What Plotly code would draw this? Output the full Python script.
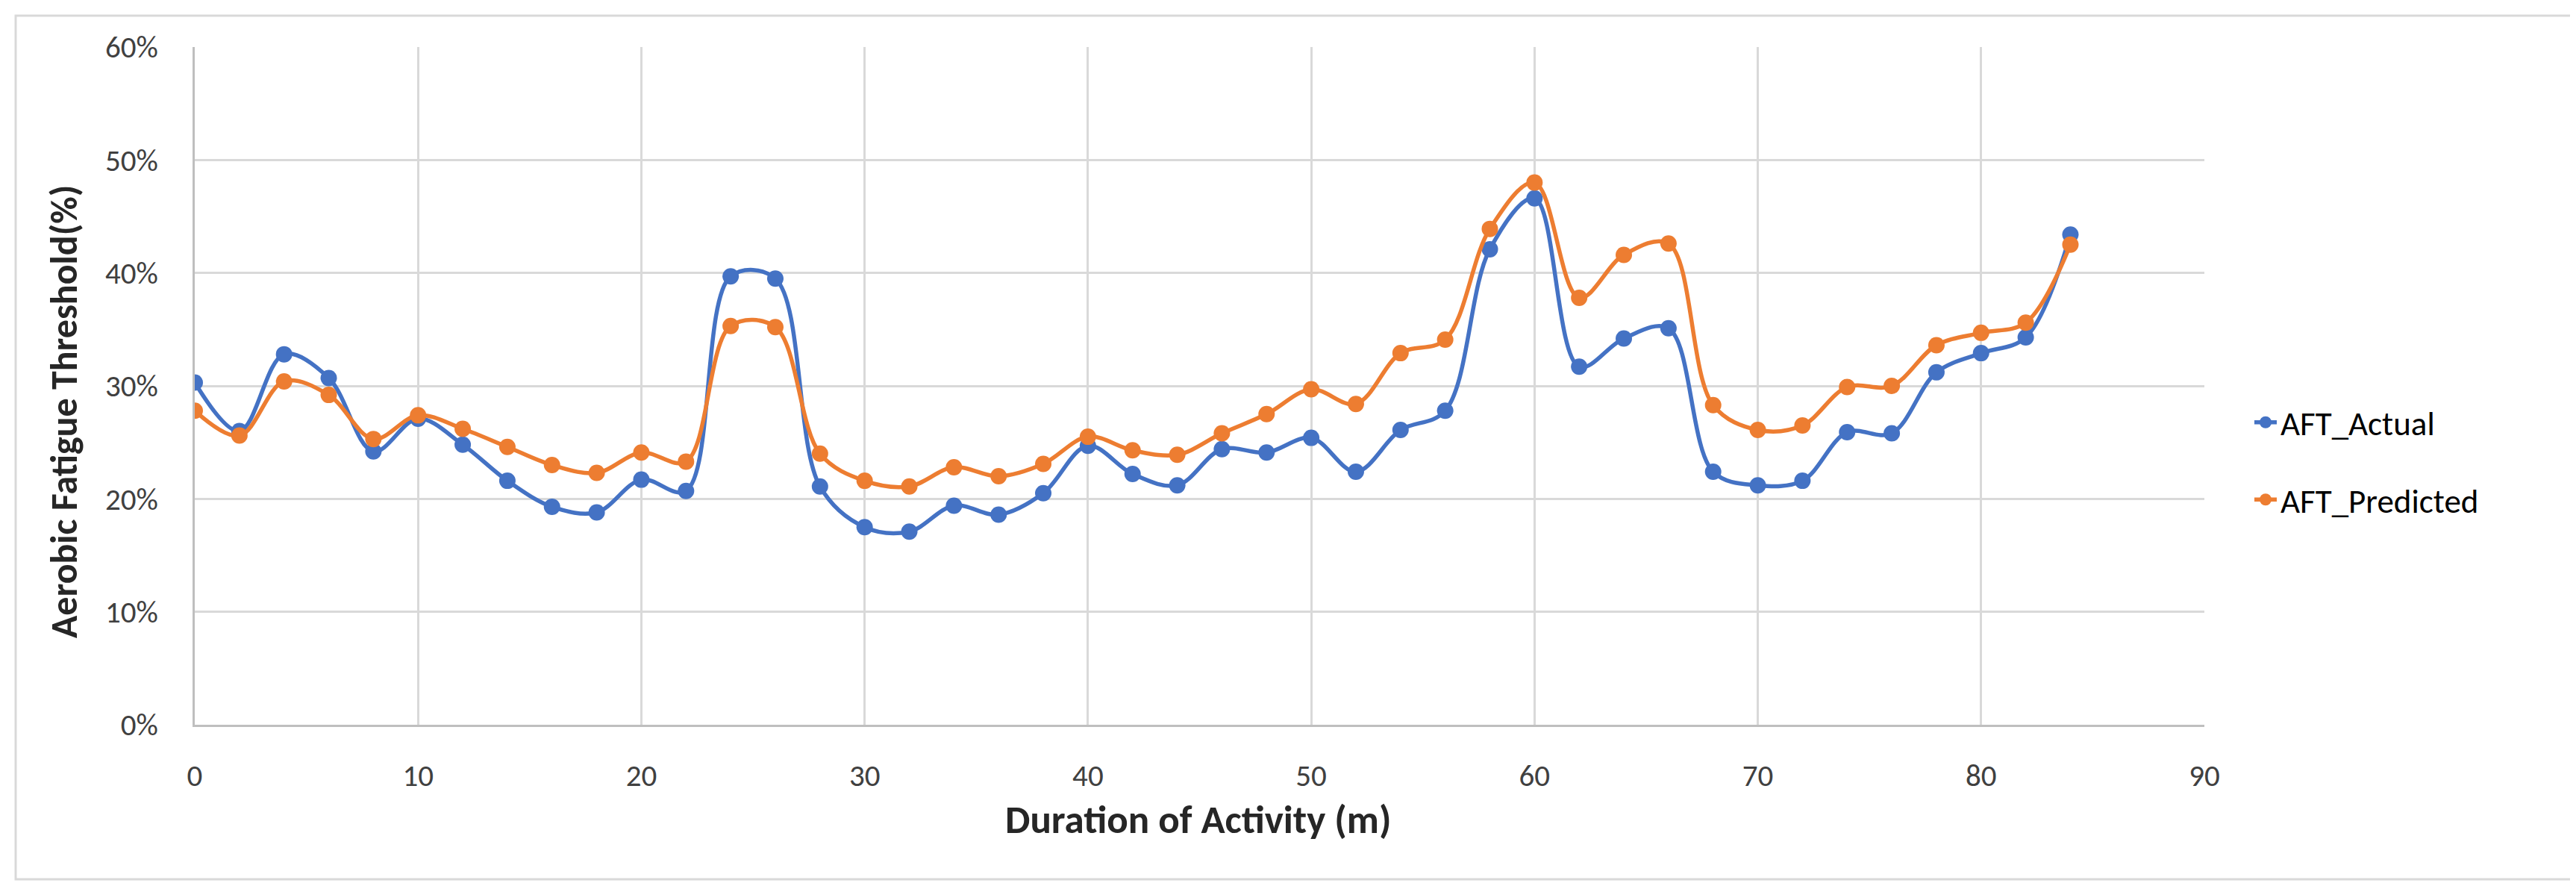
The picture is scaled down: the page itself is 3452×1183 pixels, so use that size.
import plotly.graph_objects as go

minutes = list(range(0, 86, 2))
aft_actual = [30.3, 26.0, 32.8, 30.7, 24.2, 27.1, 24.8, 21.6, 19.3, 18.8,
              21.7, 20.7, 39.7, 39.5, 21.1, 17.5, 17.1, 19.4, 18.6, 20.5,
              24.7, 22.2, 21.2, 24.4, 24.1, 25.4, 22.4, 26.1, 27.8, 42.1,
              46.6, 31.7, 34.2, 35.1, 22.4, 21.2, 21.6, 25.9, 25.8, 31.2,
              32.9, 34.3, 43.4]
aft_predicted = [27.8, 25.6, 30.4, 29.2, 25.3, 27.4, 26.2, 24.6, 23.0, 22.3,
                 24.1, 23.3, 35.3, 35.2, 24.0, 21.6, 21.1, 22.8, 22.0, 23.1,
                 25.5, 24.3, 23.9, 25.8, 27.5, 29.7, 28.4, 32.9, 34.1, 43.9,
                 48.0, 37.8, 41.6, 42.6, 28.3, 26.1, 26.5, 29.9, 30.0, 33.6,
                 34.7, 35.6, 42.5]
series_names = ["AFT_Actual", "AFT_Predicted"]
series_colors = ["#4472C4", "#ED7D31"]
x_ticks = list(range(0, 91, 10))
y_ticks = list(range(0, 61, 10))
x_title = "Duration of Activity (m)"
y_title = "Aerobic Fatigue Threshold(%)"

FONT = "Carlito, Lato, 'Open Sans', sans-serif"

fig = go.Figure()
for name, vals, col in zip(series_names, [aft_actual, aft_predicted], series_colors):
    fig.add_trace(go.Scatter(
        x=minutes, y=vals, name=name, mode="lines+markers",
        line=dict(color=col, width=5.5, shape="spline", smoothing=1),
        marker=dict(color=col, size=22),
        legendgroup=name,
    ))

W, H = 3452, 1183
L, R, T, B = 253, 506, 55, 220
pw, ph = W - L - R, H - T - B

def px2paper_x(px):
    return (px - L) / pw

def px2paper_y(py):
    return (H - B - py) / ph

fig.add_shape(type="rect", xref="paper", yref="paper",
              x0=px2paper_x(13), x1=px2paper_x(3440),
              y0=px2paper_y(1170), y1=px2paper_y(13),
              line=dict(color="#d9d9d9", width=3), layer="below")

fig.add_annotation(text=f"<b>{x_title}</b>", xref="paper", yref="paper",
                   x=px2paper_x(1597), y=px2paper_y(1090),
                   xanchor="center", yanchor="middle", showarrow=False,
                   font=dict(family=FONT, size=53, color="#262626"))
fig.add_annotation(text=f"<b>{y_title}</b>", xref="paper", yref="paper",
                   x=px2paper_x(77), y=px2paper_y(544), textangle=-90,
                   xanchor="center", yanchor="middle", showarrow=False,
                   font=dict(family=FONT, size=50, color="#262626"))

fig.update_layout(
    width=W, height=H,
    margin=dict(l=L, r=R, t=T, b=B),
    paper_bgcolor="white", plot_bgcolor="white",
    font=dict(family=FONT, size=41, color="#404040"),
    showlegend=True,
    legend=dict(
        x=px2paper_x(3008), xanchor="left",
        y=px2paper_y(522), yanchor="top",
        font=dict(family=FONT, size=45, color="#000000"),
        tracegroupgap=42, traceorder="grouped",
        bgcolor="rgba(0,0,0,0)",
    ),
    xaxis=dict(
        range=[0, 90], tickvals=x_ticks, ticktext=[str(v) for v in x_ticks],
        showgrid=True, gridcolor="#d9d9d9", gridwidth=2.5,
        showline=True, linecolor="#bfbfbf", linewidth=3,
        zeroline=False, ticks="", ticklabelstandoff=30, automargin=False,
        tickfont=dict(family=FONT, size=41, color="#404040"),
    ),
    yaxis=dict(
        range=[0, 60], tickvals=y_ticks, ticktext=[f"{v}%" for v in y_ticks],
        showgrid=True, gridcolor="#d9d9d9", gridwidth=2.5,
        showline=True, linecolor="#bfbfbf", linewidth=3,
        zeroline=False, ticks="", ticklabelstandoff=38, automargin=False,
        tickfont=dict(family=FONT, size=41, color="#404040"),
    ),
)

fig.write_html("out.html")
